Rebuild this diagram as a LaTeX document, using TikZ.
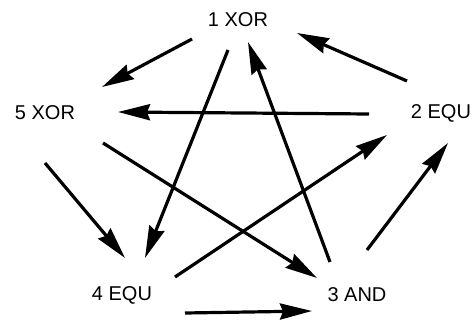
\documentclass[tikz,border=0pt]{standalone}
\usepackage{fontspec}
\setmainfont{Liberation Sans}
\usetikzlibrary{arrows.meta,calc}

\begin{document}
\begin{tikzpicture}[x=1pt,y=-1pt,>={Stealth[length=32pt,width=16pt,inset=3pt]},
  gate/.style={font=\fontsize{20}{24}\selectfont,inner sep=0pt}]
\useasboundingbox (0,0) rectangle (476,320);
\node[gate] (xor1) at (238,20) {1 XOR};
\node[gate] (equ2) at (441,113) {2 EQU};
\node[gate] (and3) at (357,295) {3 AND};
\node[gate] (equ4) at (122,295) {4 EQU};
\node[gate] (xor5) at (45,113) {5 XOR};
\foreach \a/\sx/\sy/\b/\ex/\ey in {xor1/-46/19/xor5/57/-26, xor1/-10/30/equ4/23/-37,
  and3/-27/-33/xor1/10/22, equ2/-34/-32/xor1/59/13, equ2/-72/1/xor5/73/-1,
  xor5/58/30/and3/-40/-17, xor5/0/50/equ4/3/-37, equ4/53/-18/equ2/-54/22,
  and3/10/-45/equ2/7/30, equ4/63/18/and3/-45/16}
 \draw[->,line width=3.2pt] ($(\a)+(\sx,\sy)$)--($(\b)+(\ex,\ey)$);
\end{tikzpicture}
\end{document}
